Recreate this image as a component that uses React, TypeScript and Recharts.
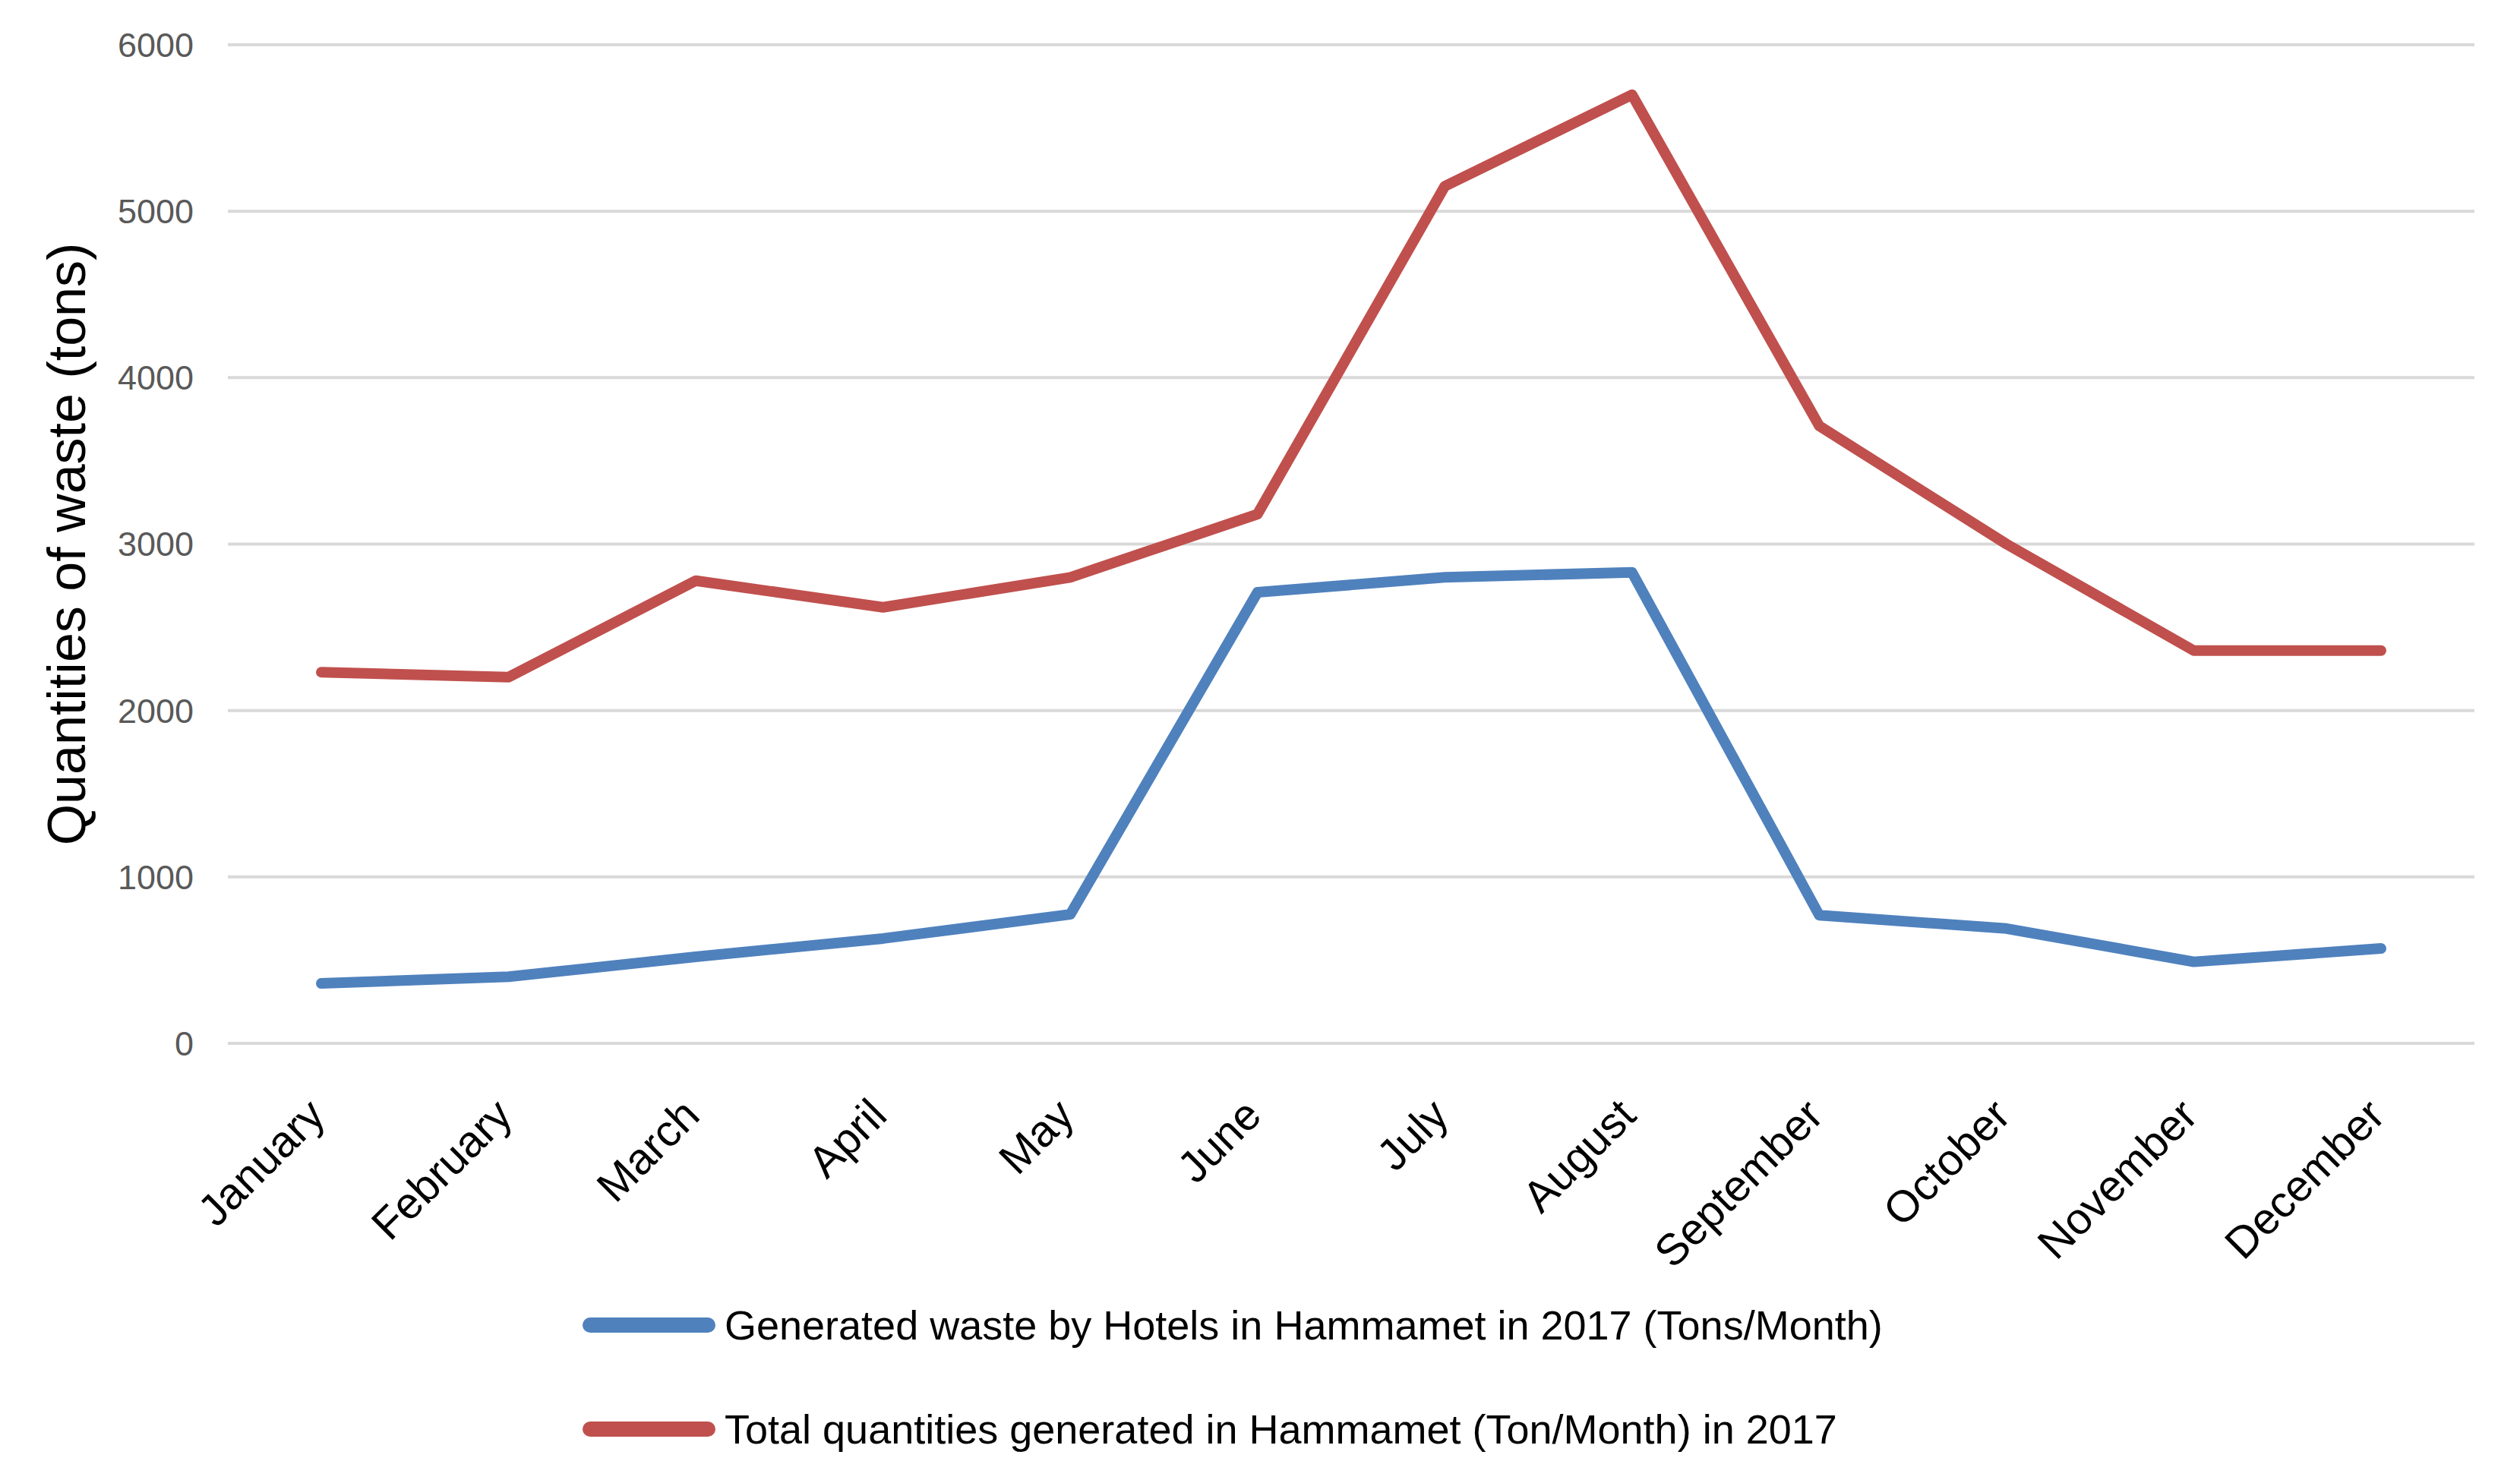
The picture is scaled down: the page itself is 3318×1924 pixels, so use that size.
import React from 'react';
import {
  LineChart,
  Line,
  XAxis,
  YAxis,
  CartesianGrid,
  Legend,
  Label
} from 'recharts';

document.body.style.margin = '0';

const months = [
  'January', 'February', 'March', 'April', 'May', 'June',
  'July', 'August', 'September', 'October', 'November', 'December'
];
const hotelWaste = [360, 400, 520, 630, 775, 2710, 2800, 2830, 770, 690, 490, 570];
const totalWaste = [2230, 2200, 2780, 2620, 2800, 3180, 5150, 5700, 3710, 3000, 2360, 2360];
const yTicks = [0, 1000, 2000, 3000, 4000, 5000, 6000];

const hotelName = 'Generated waste by Hotels in Hammamet in 2017 (Tons/Month)';
const totalName = 'Total quantities generated in Hammamet (Ton/Month) in 2017';

const data = months.map((month, i) => ({
  month,
  hotels: hotelWaste[i],
  total: totalWaste[i],
}));

const FONT = '"Liberation Sans", Arial, sans-serif';

const MonthTick = (props: any) => {
  const { x, y, payload } = props;
  return (
    <g transform={`translate(${x + 8},${y + 98}) rotate(-45)`}>
      <text textAnchor="end" fontSize={58} fontFamily={FONT} fill="#000">
        {payload.value}
      </text>
    </g>
  );
};

const LegendBox = (props: any) => {
  const { payload } = props;
  const rows = [121, 258];
  return (
    <div style={{ position: 'relative', width: 3318, height: 300 }}>
      {(payload || []).map((entry: any, i: number) => (
        <div
          key={entry.value}
          style={{
            position: 'absolute',
            left: 767,
            top: rows[i] - 35,
            height: 70,
            display: 'flex',
            alignItems: 'center',
            whiteSpace: 'nowrap',
          }}
        >
          <div style={{ width: 175, height: 20, borderRadius: 10, background: entry.color }} />
          <span style={{ marginLeft: 12, fontSize: 54, fontFamily: FONT, color: '#000' }}>
            {entry.value}
          </span>
        </div>
      ))}
    </div>
  );
};

const App: React.FC = () => {
  return (
    <div style={{ width: 3318, height: 1924, background: '#fff' }}>
      <LineChart
        width={3318}
        height={1924}
        data={data}
        margin={{ top: 59, right: 60, left: 0, bottom: 0 }}
      >
        <CartesianGrid horizontal vertical={false} stroke="#D9D9D9" strokeWidth={4} />
        <XAxis
          dataKey="month"
          height={250}
          axisLine={false}
          tickLine={false}
          tickSize={0}
          tickMargin={0}
          interval={0}
          padding={{ left: 123, right: 123 }}
          tick={<MonthTick />}
        />
        <YAxis
          width={300}
          domain={[0, 6000]}
          ticks={yTicks}
          axisLine={false}
          tickLine={false}
          tickSize={0}
          tickMargin={45}
          tick={{ fontSize: 45, fill: '#595959', fontFamily: FONT }}
        >
          <Label
            content={({ viewBox }: any) => {
              const cx = 88;
              const cy = viewBox.y + viewBox.height / 2;
              return (
                <text
                  x={cx}
                  y={cy}
                  transform={`rotate(-90 ${cx} ${cy})`}
                  textAnchor="middle"
                  dominantBaseline="central"
                  fontSize={70}
                  fontFamily={FONT}
                  fill="#000"
                >
                  Quantities of waste (tons)
                </text>
              );
            }}
          />
        </YAxis>
        <Legend
          verticalAlign="bottom"
          align="left"
          wrapperStyle={{ left: 0, width: 3318 }}
          content={<LegendBox />}
        />
        <Line
          type="linear"
          dataKey="hotels"
          name={hotelName}
          stroke="#4F81BD"
          strokeWidth={14}
          strokeLinecap="round"
          strokeLinejoin="round"
          dot={false}
          activeDot={false}
          isAnimationActive={false}
        />
        <Line
          type="linear"
          dataKey="total"
          name={totalName}
          stroke="#C0504D"
          strokeWidth={14}
          strokeLinecap="round"
          strokeLinejoin="round"
          dot={false}
          activeDot={false}
          isAnimationActive={false}
        />
      </LineChart>
    </div>
  );
};

export default App;
